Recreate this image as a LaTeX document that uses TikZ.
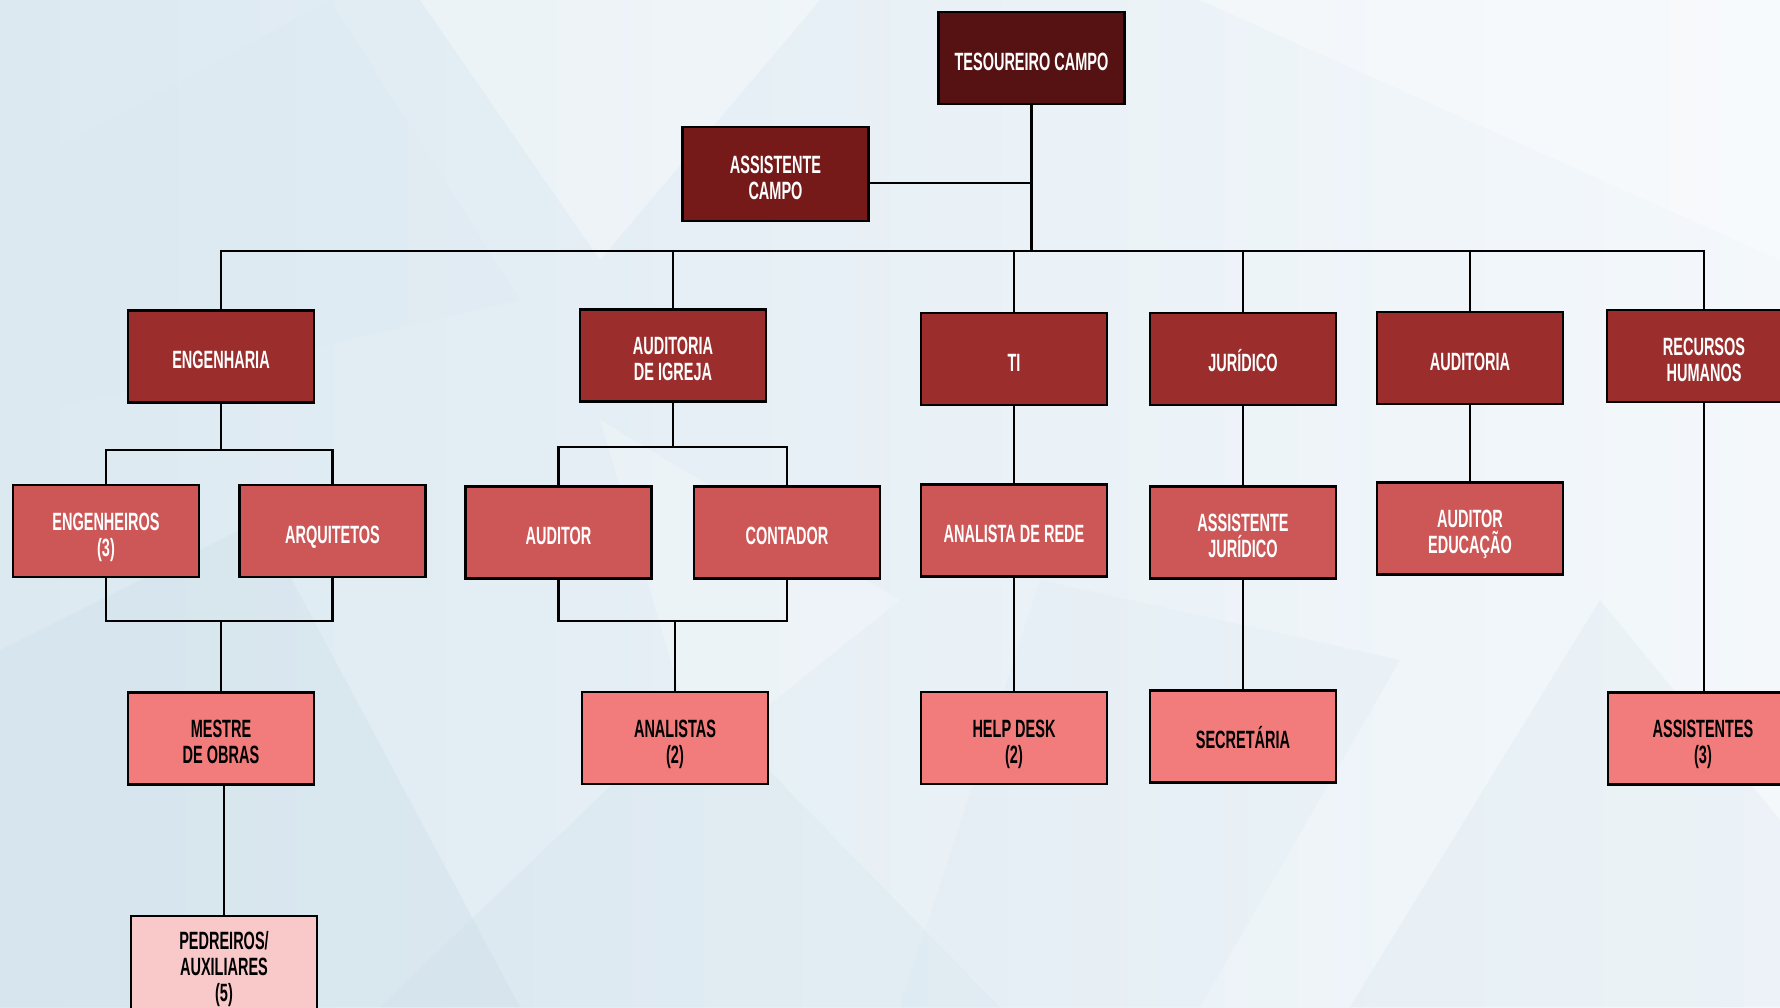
\documentclass[tikz,border=0pt]{standalone}
\usepackage{fontspec}
\setmainfont{Liberation Sans}[FakeStretch=0.58]
\definecolor{cTop}{HTML}{561212}
\definecolor{cAC}{HTML}{761919}
\definecolor{cL2}{HTML}{9B2D2D}
\definecolor{cL3}{HTML}{CD5757}
\definecolor{cL4}{HTML}{F27C7C}
\definecolor{cL5}{HTML}{F9C9C9}
\definecolor{bgA}{HTML}{F4F8FB}
\definecolor{bgB}{HTML}{DCE9F1}
\definecolor{bgC}{HTML}{C9DCE8}
\newcommand\bxt[1]{\rule{0pt}{30pt}#1\rule[-6pt]{0pt}{6pt}}
\tikzset{
  box/.style={draw=black, line width=2.6pt, rectangle, minimum width=186pt, minimum height=92pt,
    inner sep=0pt, align=center, font=\fontsize{25}{26}\selectfont\bfseries},
  lvA/.style={box, fill=cTop, text=white},
  lvB/.style={box, fill=cAC, text=white},
  lvC/.style={box, fill=cL2, text=white},
  lvD/.style={box, fill=cL3, text=white},
  lvE/.style={box, fill=cL4, text=black},
  lvF/.style={box, fill=cL5, text=black},
  link/.style={draw=black, line width=2.6pt},
  facet/.style={fill=white, opacity=0.35, draw=none}
}
\begin{document}
\begin{tikzpicture}[x=1pt,y=-1pt]
\useasboundingbox (0,0) rectangle (1780,1007);
% background
\shade[left color=bgB, right color=bgA] (0,0) rectangle (1780,1007);
\fill[bgC, opacity=0.3] (0,650) -- (260,520) -- (520,1007) -- (0,1007) -- cycle;
\fill[bgC, opacity=0.2] (380,1007) -- (700,700) -- (1000,1007) -- cycle;
\fill[bgC, opacity=0.18] (1350,1007) -- (1600,600) -- (1780,820) -- (1780,1007) -- cycle;
\fill[bgB, opacity=0.3] (0,180) -- (330,0) -- (520,300) -- (0,420) -- cycle;
\fill[facet] (420,0) -- (820,0) -- (600,260) -- cycle;
\fill[facet] (1200,0) -- (1780,0) -- (1780,260) -- cycle;
\fill[bgB, opacity=0.25] (1040,580) -- (1400,660) -- (1200,1007) -- (900,1007) -- cycle;
\fill[white, opacity=0.25] (600,420) -- (900,600) -- (700,760) -- cycle;

% nodes
\node[lvA] (top) at (1031.5,58) {\bxt{TESOUREIRO CAMPO}};
\node[lvB, minimum height=94pt] (ac) at (775.5,174) {\bxt{ASSISTENTE\\CAMPO}};

\node[lvC] (eng) at (221,356.5) {\bxt{ENGENHARIA}};
\node[lvC] (aud) at (673,355.5) {\bxt{AUDITORIA\\DE IGREJA}};
\node[lvC] (ti) at (1014,359) {\bxt{TI}};
\node[lvC] (jur) at (1243,359) {\bxt{JURÍDICO}};
\node[lvC] (audit) at (1470,358) {\bxt{AUDITORIA}};
\node[lvC, minimum width=194pt] (rh) at (1704,356) {\bxt{RECURSOS\\HUMANOS}};

\node[lvD] (engr) at (106,531) {\bxt{ENGENHEIROS\\(3)}};
\node[lvD] (arq) at (332.5,531) {\bxt{ARQUITETOS}};
\node[lvD] (auditor) at (558.5,532.5) {\bxt{AUDITOR}};
\node[lvD] (contador) at (787,532.5) {\bxt{CONTADOR}};
\node[lvD] (rede) at (1014,530.5) {\bxt{ANALISTA DE REDE}};
\node[lvD] (assjur) at (1243,532.5) {\bxt{ASSISTENTE\\JURÍDICO}};
\node[lvD] (audedu) at (1470,528.5) {\bxt{AUDITOR\\EDUCAÇÃO}};

\node[lvE] (mestre) at (221,738.5) {\bxt{MESTRE\\DE OBRAS}};
\node[lvE] (analistas) at (675,738) {\bxt{ANALISTAS\\(2)}};
\node[lvE] (help) at (1014,738) {\bxt{HELP DESK\\(2)}};
\node[lvE] (secr) at (1243,736.5) {\bxt{SECRETÁRIA}};
\node[lvE, minimum width=190pt] (assist) at (1703,738.5) {\bxt{ASSISTENTES\\(3)}};

\node[lvF, minimum height=94pt] (pedr) at (224,963) {\bxt{PEDREIROS/\\AUXILIARES\\(5)}};

% helper coordinates
\coordinate (bus) at (1031.5,251);
\coordinate (acj) at (1031.5,183);
\coordinate (engbus) at (221,450);
\coordinate (englow) at (221,621);
\coordinate (audbus) at (673,447);
\coordinate (audlow) at (675,621);

% connectors
\draw[link] (top.south) -- (bus);
\draw[link] (ac.east |- acj) -- (acj);
\draw[link] (eng.north) -- (eng.north |- bus) -- (rh.north |- bus) -- (rh.north);
\draw[link] (aud.north) -- (aud.north |- bus);
\draw[link] (ti.north) -- (ti.north |- bus);
\draw[link] (jur.north) -- (jur.north |- bus);
\draw[link] (audit.north) -- (audit.north |- bus);

\draw[link] (eng.south) -- (engbus);
\draw[link] (engr.north) |- (engbus) -| (arq.north);
\draw[link] (engr.south) |- (englow) -| (arq.south);
\draw[link] (englow) -- (mestre.north);
\draw[link] (mestre.south -| pedr.north) -- (pedr.north);

\draw[link] (aud.south) -- (audbus);
\draw[link] (auditor.north) |- (audbus) -| (contador.north);
\draw[link] (auditor.south) |- (audlow) -| (contador.south);
\draw[link] (audlow) -- (analistas.north);

\draw[link] (ti.south) -- (rede.north);
\draw[link] (rede.south) -- (help.north);
\draw[link] (jur.south) -- (assjur.north);
\draw[link] (assjur.south) -- (secr.north);
\draw[link] (audit.south) -- (audedu.north);
\draw[link] (rh.south) -- (rh.south |- assist.north);
\end{tikzpicture}
\end{document}
